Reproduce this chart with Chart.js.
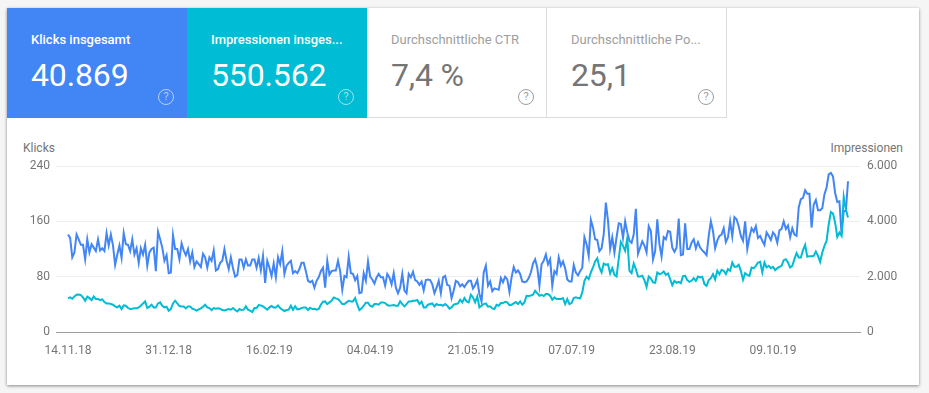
<!DOCTYPE html>
<html lang="de"><head><meta charset="utf-8">
<script src="https://cdn.jsdelivr.net/npm/chart.js@4"></script>
<style>
html,body{margin:0;padding:0;width:929px;height:393px;overflow:hidden;background:#f5f5f5;font-family:Roboto,sans-serif}
#card{position:absolute;left:7px;top:8px;width:912px;height:377px;background:#fff;box-shadow:0 1px 3px rgba(0,0,0,.45)}
.tile{position:absolute;top:8px;width:180px;height:110px;box-sizing:border-box}
.tile .t{position:absolute;left:24px;top:24px;font-size:13px;line-height:16px;white-space:nowrap}
.tile .v{position:absolute;left:24px;top:48px;font-size:32px;line-height:38px;white-space:nowrap;letter-spacing:-.15px}
.tile .q{position:absolute;left:151px;top:81px;width:16px;height:16px;box-sizing:border-box;border:1.4px solid;border-radius:50%;font-size:11px;line-height:13.5px;text-align:center}
.dark{color:#fff}.dark .t{font-weight:500}.dark .q{border-color:rgba(255,255,255,.6);color:rgba(255,255,255,.6)}
.light{color:#757575;border-right:1px solid #dadce0;border-bottom:1px solid #dadce0}.light .t{color:#9e9e9e}.light .q{border-color:#9e9e9e;color:#9e9e9e}
.axt{position:absolute;top:141px;font-size:12px;line-height:14px;color:#757575;white-space:nowrap}
canvas{position:absolute;left:0;top:0}
</style></head><body>
<div id="card"></div>
<div class="tile dark" style="left:7px;background:#4285f4"><div class="t">Klicks insgesamt</div><div class="v">40.869</div><div class="q">?</div></div>
<div class="tile dark" style="left:187px;background:#00bcd4"><div class="t">Impressionen insges...</div><div class="v">550.562</div><div class="q">?</div></div>
<div class="tile light" style="left:367px"><div class="t">Durchschnittliche CTR</div><div class="v">7,4 %</div><div class="q">?</div></div>
<div class="tile light" style="left:547px"><div class="t">Durchschnittliche Po...</div><div class="v">25,1</div><div class="q">?</div></div>
<div class="axt" style="left:23px">Klicks</div>
<div class="axt" style="right:26px">Impressionen</div>
<canvas id="c" width="929" height="393"></canvas>
<script>
const tickLabels=["14.11.18","31.12.18","16.02.19","04.04.19","21.05.19","07.07.19","23.08.19","09.10.19"];
const klicks=[141,136,108,115,141,134,126,126,105,134,115,127,122,117,134,118,121,117,143,125,141,125,97,112,125,107,143,127,126,117,134,112,121,100,121,112,126,96,115,120,122,88,145,134,122,103,111,85,86,140,120,120,105,128,118,111,120,102,115,94,102,98,94,113,108,93,108,103,118,89,91,100,103,120,103,91,108,92,80,82,105,105,93,105,96,96,105,105,93,107,89,110,71,103,93,81,99,79,108,98,117,84,96,100,103,85,88,85,91,100,100,88,74,72,74,64,74,79,
88,93,64,103,83,88,89,89,103,88,61,81,79,109,85,84,75,81,56,57,85,74,102,80,76,70,79,84,79,79,67,84,79,69,85,64,56,64,84,60,56,84,79,87,75,73,68,73,60,75,76,75,69,56,64,74,56,79,81,68,67,49,60,74,72,66,69,65,70,74,74,63,68,75,55,44,86,96,67,73,59,63,62,61,78,72,80,76,58,79,94,86,89,84,73,72,73,78,86,99,105,93,67,98,103,112,98,105,67,88,84,108,96,102,92,76,73,73,97,86,82,88,93,137,127,110,162,151,134,133,117,121,141,187,
161,120,137,115,137,157,156,136,160,144,132,129,141,178,113,122,131,125,115,153,146,105,117,163,127,109,137,134,146,145,122,116,122,164,111,112,157,120,120,129,134,121,130,122,118,115,111,139,160,146,121,132,139,141,150,130,137,160,138,166,163,153,139,132,160,120,137,150,145,153,136,139,132,126,144,139,133,144,140,129,147,149,160,149,154,137,150,141,139,180,192,194,205,200,200,151,184,191,176,176,179,199,209,228,230,225,201,188,189,141,175,175,218];
const impressionen=[1226,1250,1202,1286,1346,1358,1334,1250,1130,1274,1226,1154,1286,1190,1190,1154,1178,1082,1034,1034,1010,986,926,890,950,830,962,950,866,830,842,854,854,890,950,1034,1106,866,914,986,890,890,1034,1070,950,890,914,770,830,1034,1130,1034,938,926,926,854,926,926,842,818,770,818,854,914,986,890,866,794,866,842,854,842,794,782,806,830,806,866,794,746,830,794,806,926,806,770,722,866,866,974,962,926,866,806,890,938,890,890,962,866,806,758,794,806,950,806,926,818,830,866,890,890,794,878,830,842,806,830,
986,1094,1106,1010,1070,1130,1250,1214,1190,1106,1010,1010,1070,1130,1106,1106,1226,986,794,854,950,1058,1058,950,914,1010,1010,986,1070,1070,1046,974,950,962,974,950,950,1106,1010,926,1010,1106,1106,1130,1130,1154,1010,1094,890,890,986,1010,1034,926,1010,974,986,950,1010,950,842,890,986,1010,1034,1166,1070,1226,1106,1070,1346,1250,1070,1286,890,950,1010,1034,914,926,854,830,986,950,1046,1046,1094,1070,974,986,1034,1082,1010,1106,986,1070,1310,1298,1322,1346,1490,1394,1310,1346,1298,1370,1370,1310,1166,1250,1190,1190,1190,1226,1010,1190,1010,1046,1226,1250,1226,1214,1430,1851,1995,1911,2152,2332,2548,2668,2332,2152,2476,2428,
2452,2116,2308,2067,2007,2632,3257,3113,2933,3390,2212,2128,2476,2272,2007,2007,2031,1875,1635,2007,1935,1791,1779,2152,2091,2116,2188,2067,2116,1911,1695,1851,1779,1815,1767,2019,2031,1875,1815,1851,1947,1851,2007,1971,1995,1731,1671,1875,1947,2091,1899,2212,2091,2248,2212,2091,2272,2212,2512,2356,2356,2428,2212,1887,2128,2067,2031,2332,2308,2392,2512,2536,2152,2512,2332,2392,2308,2356,2236,2308,2356,2392,2596,2632,2512,2332,2392,2632,2849,2692,2692,2957,3149,2717,2741,2741,2753,2909,2753,2536,2873,3113,3293,3894,4339,4279,3955,3438,3594,3474,4892,4435,4135];
const leftTicks=[0,80,160,240];
const rightTicks=[0,2000,4000,6000];
const daysBetweenLabels=47;
const tickFont={family:'Roboto',size:12};
const toPts=a=>a.map((y,x)=>({x,y}));
new Chart(document.getElementById('c'),{
 type:'line',
 data:{datasets:[
  {label:'Impressionen',data:toPts(impressionen),yAxisID:'yR',borderColor:'#00bcd4',borderWidth:2,pointRadius:0,tension:0},
  {label:'Klicks',data:toPts(klicks),yAxisID:'yL',borderColor:'#4285f4',borderWidth:2,pointRadius:0,tension:0}
 ]},
 options:{
  responsive:false,animation:false,
  layout:{padding:{left:0,right:0,top:166,bottom:0}},
  plugins:{legend:{display:false},tooltip:{enabled:false}},
  scales:{
   x:{type:'linear',min:-5.6,max:369.6,
    afterBuildTicks:s=>{s.ticks=tickLabels.map((_,i)=>({value:i*daysBetweenLabels}))},
    afterFit:s=>{s.height=61},
    grid:{display:false,drawTicks:false},
    border:{display:true,color:'#9e9e9e',width:1},
    ticks:{autoSkip:false,maxRotation:0,padding:12,color:'#757575',font:tickFont,callback:v=>tickLabels[Math.round(v/daysBetweenLabels)]}},
   yL:{position:'left',min:0,max:240,
    afterBuildTicks:s=>{s.ticks=leftTicks.map(value=>({value}))},
    afterFit:s=>{s.width=56},
    grid:{color:'#eeeeee',drawTicks:false},border:{display:false},
    ticks:{padding:6,color:'#757575',font:tickFont}},
   yR:{position:'right',min:0,max:6000,
    afterBuildTicks:s=>{s.ticks=rightTicks.map(value=>({value}))},
    afterFit:s=>{s.width=69},
    grid:{display:false,drawTicks:false},border:{display:false},
    ticks:{padding:7,color:'#757575',font:tickFont,callback:v=>v===0?'0':v.toLocaleString('de-DE')}}
  }
 }
});
</script>
</body></html>
